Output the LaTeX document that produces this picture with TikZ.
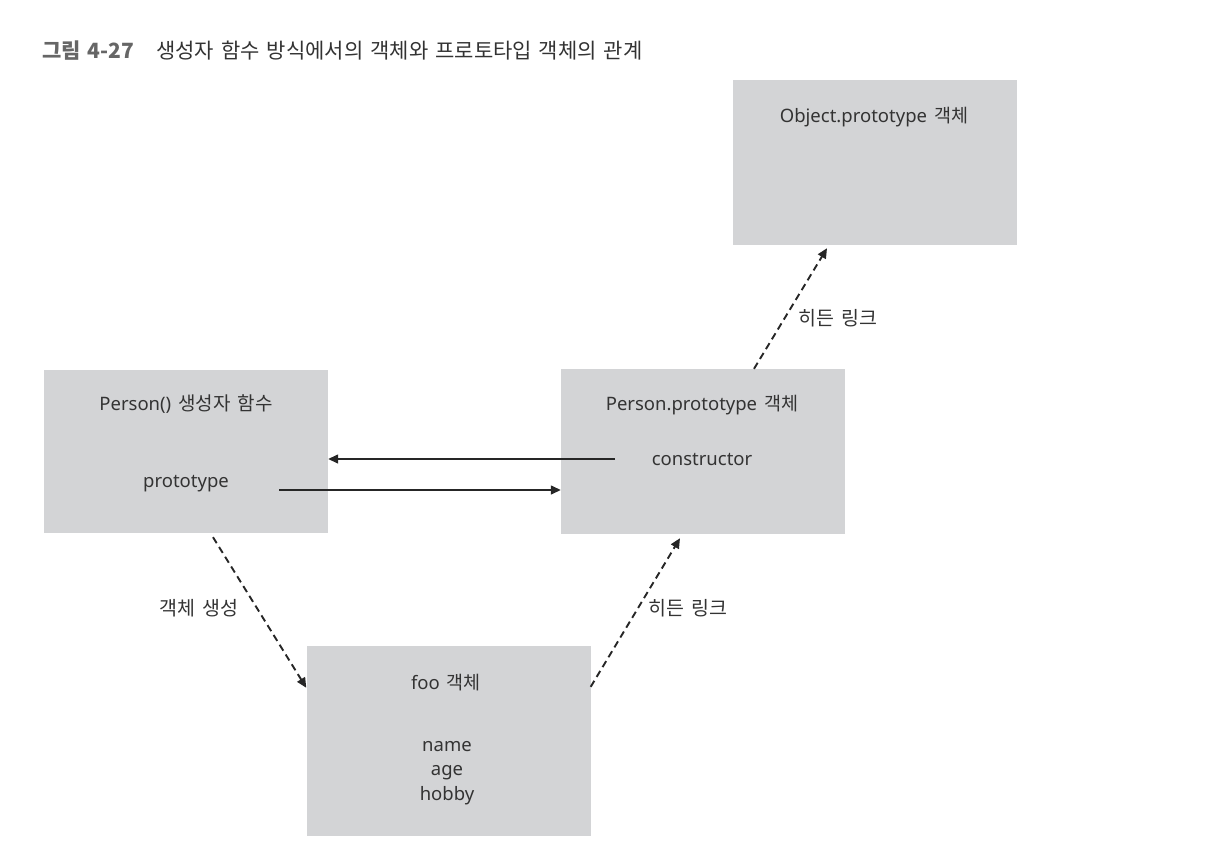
\documentclass[tikz,border=0pt]{standalone}
\usepackage{fontspec}
\setmainfont{Noto Sans}
\newfontfamily\kr{Noto Sans CJK KR}
\usetikzlibrary{arrows.meta}
\tikzset{>={Triangle[length=10pt,width=9pt]}}
\definecolor{boxgray}{HTML}{D3D4D6}
\definecolor{txtgray}{HTML}{333333}
\newcommand\widesp[1]{\spaceskip=#1\relax}

\begin{document}
\begin{tikzpicture}[x=1pt, y=-1pt,
    box/.style={fill=boxgray, inner sep=0pt, minimum width=284pt},
    txt/.style={text=txtgray, inner sep=0pt, font=\fontsize{18.5}{24.5}\selectfont\widesp{7pt}},
    lbl/.style={text=txtgray, inner sep=0pt, font=\kr\fontsize{19.5}{22}\selectfont\widesp{7pt}},
    link/.style={->, line width=1.4pt, draw=black!85},
    hidden/.style={->, dash pattern=on 7pt off 4.5pt, line width=1.9pt, draw=black!85}]
    \useasboundingbox (0,0) rectangle (1232,860);
    \node[anchor=west, inner sep=0pt, text=txtgray, font=\kr\fontsize{21}{24}\selectfont\widesp{7pt}] (title) at (42,51)
        {{\bfseries\color{black!60}그림 4-27}\hspace{22pt}생성자 함수 방식에서의 객체와 프로토타입 객체의 관계};
    % boxes
    \node[box, minimum height=163pt] (person) at (186,451.5) {};
    \node[box, minimum height=165pt] (proto) at (703,451.5) {};
    \node[box, minimum height=165pt] (objproto) at (875,162.5) {};
    \node[box, minimum height=190pt] (foo) at (448.5,741) {};
    % texts in the boxes
    \node[txt] (personT) at (186,404) {Person() {\kr\fontsize{19}{24.5}\selectfont 생성자 함수}};
    \node[txt] (ptype) at (186,484) {prototype};
    \node[txt] (protoT) at (702,405) {Person.prototype {\kr\fontsize{18.5}{24.5}\selectfont 객체}};
    \node[txt] (ctor) at (702,459) {constructor};
    \node[txt] (objT) at (874,117) {Object.prototype {\kr\fontsize{18.5}{24.5}\selectfont 객체}};
    \node[txt] (fooT) at (446,683) {foo {\kr\fontsize{18.5}{24.5}\selectfont 객체}};
    \node[txt, align=center] (props) at (447,773) {name\\age\\hobby};
    % links
    \coordinate (ct) at (615,459);
    \coordinate (pt) at (279,490);
    \draw[link] (ct) -- (ct -| person.east);
    \draw[link] (pt) -- (pt -| proto.west);
    \draw[hidden] ([xshift=27pt,yshift=-4pt]person.south) -- ([yshift=-42pt]foo.north west);
    \draw[hidden] ([yshift=-41pt]foo.north east) -- ([xshift=-23pt,yshift=-4pt]proto.south);
    \draw[hidden] ([xshift=51pt]proto.north) -- ([xshift=-48pt,yshift=-3pt]objproto.south);
    % labels
    \node[lbl] (newL) at (199,608) {객체 생성};
    \node[lbl] (hid1) at (688,608) {히든 링크};
    \node[lbl] (hid2) at (838,318) {히든 링크};
\end{tikzpicture}
\end{document}
